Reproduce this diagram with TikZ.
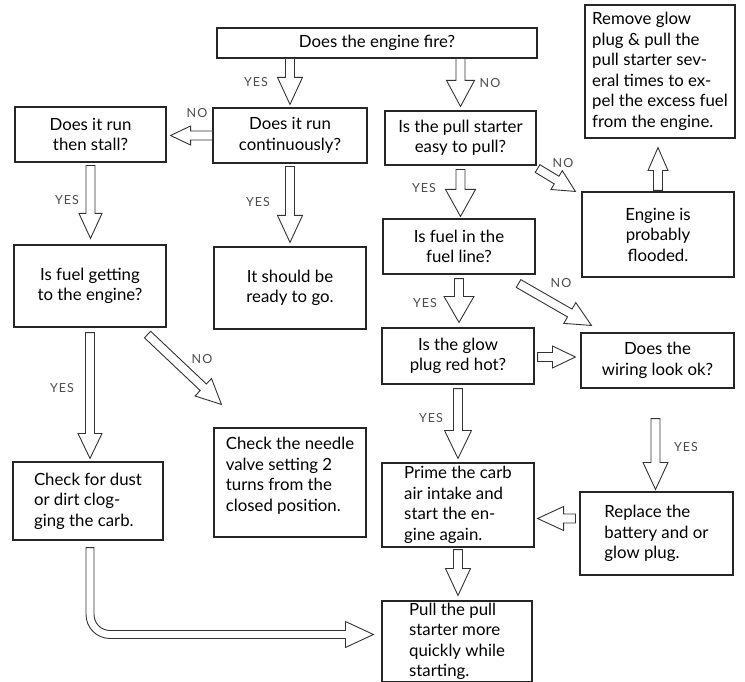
\documentclass[tikz,border=0pt]{standalone}
\usepackage{fontspec}
\setmainfont{Lato}
\usetikzlibrary{calc}
\newcommand{\blkarrow}[4]{%
  \coordinate (#1-hb) at ($(#2)!#3!(#1)$);
  \draw[blk] ($(#1)!4.5pt!90:(#2)$) -- ($(#1-hb)!4.5pt!90:(#2)$) -- ($(#1-hb)!#4!90:(#2)$) -- (#2) -- ($(#1-hb)!#4!-90:(#2)$) -- ($(#1-hb)!4.5pt!-90:(#2)$) -- ($(#1)!4.5pt!-90:(#2)$) -- cycle;}
\begin{document}
\begin{tikzpicture}[x=1pt,y=-1pt,
  box/.style={draw=black!85, line width=1.1pt, fill=white, inner sep=2pt, font=\fontsize{16.8}{20.5}\selectfont, text=black},
  blk/.style={draw=black!80, line width=0.9pt, fill=white, line join=miter},
  lbl/.style={font=\fontsize{12.5}{14}\selectfont\addfontfeature{LetterSpace=8}, text=black!70, inner sep=0pt}]
\fill[white] (0,0) rectangle (745,682);
\useasboundingbox (0,0) rectangle (745,682);

% boxes
\node[box, minimum width=320pt, minimum height=30pt] (fire) at (377,43) {Does the engine fire?};
\node[box, minimum width=154pt, minimum height=55pt, align=center] (cont) at (290,135.5) {Does it run\\continuously?};
\node[box, minimum width=151pt, minimum height=55pt, align=center] (stall) at (90.5,134.5) {Does it run\\then stall?};
\node[box, minimum width=151pt, minimum height=54pt, align=center] (pull) at (460.5,138) {Is the pull starter\\easy to pull?};
\node[box, minimum width=150pt, minimum height=133pt, align=left] (remove) at (660,71.5) {Remove glow\\plug \& pull the\\pull starter sev-\\eral times to ex-\\pel the excess fuel\\from the engine.};
\node[box, minimum width=152pt, minimum height=85pt, align=center] (flooded) at (658,234.5) {Engine is\\probably\\flooded.};
\node[box, minimum width=152pt, minimum height=55pt, align=center] (fuelline) at (459,246.5) {Is fuel in the\\fuel line?};
\node[box, minimum width=152pt, minimum height=82pt, align=center] (fuelget) at (90,286) {Is fuel getting\\to the engine?};
\node[box, minimum width=152pt, minimum height=82pt, align=center] (ready) at (290,288) {It should be\\ready to go.};
\node[box, minimum width=152pt, minimum height=56pt, align=center] (glow) at (458,356) {Is the glow\\plug red hot?};
\node[box, minimum width=153pt, minimum height=55pt, align=center] (wiring) at (657.5,360.5) {Does the\\wiring look ok?};
\node[box, minimum width=152pt, minimum height=109pt, align=left] (needle) at (290,482.5) {Check the needle\\valve setting 2\\turns from the\\closed position.\\[-4pt]\mbox{}};
\node[box, minimum width=150pt, minimum height=78pt, align=left] (dust) at (88,501) {Check for dust\\or dirt clog-\\ging the carb.};
\node[box, minimum width=152pt, minimum height=84pt, align=left] (prime) at (458,505) {Prime the carb\\air intake and\\start the en-\\gine again.};
\node[box, minimum width=153pt, minimum height=83pt, align=left] (replace) at (656.5,533.5) {Replace the\\battery and or\\glow plug.};
\node[box, minimum width=150pt, minimum height=79pt, align=left] (pullq) at (457,641.5) {Pull the pull\\starter more\\quickly while\\starting.};

% arrow end points
\coordinate (a1s) at (cont.north |- fire.south);
\coordinate (a1t) at ($(cont.north)+(0,-3)$);
\coordinate (a2s) at (pull.north |- fire.south);
\coordinate (a2t) at ($(pull.north)+(0,-4)$);
\coordinate (a3s) at (cont.west);
\coordinate (a3t) at ($(stall.east |- cont.west)+(4,0)$);
\coordinate (a4s) at ($(cont.south)+(0,3)$);
\coordinate (a4t) at ($(cont.south |- ready.north)+(0,-4)$);
\coordinate (a5s) at ($(stall.south)+(0,3)$);
\coordinate (a5t) at ($(stall.south |- fuelget.north)+(0,-6)$);
\coordinate (a6s) at ($(pull.south)+(0,4)$);
\coordinate (a6t) at ($(pull.south |- fuelline.north)+(0,-2)$);
\coordinate (a7s) at ($(pull.south east)+(1,3)$);
\coordinate (a7t) at ($(flooded.north west)+(-6,0)$);
\coordinate (a8s) at ($(flooded.north)+(0,-1)$);
\coordinate (a8t) at ($(flooded.north |- remove.south)+(0,9)$);
\coordinate (a9s) at ($(fuelline.south)+(0,4)$);
\coordinate (a9t) at ($(fuelline.south |- glow.north)+(0,-5)$);
\coordinate (a10s) at ($(fuelline.south east)+(-17,9)$);
\coordinate (a10t) at ($(wiring.north west)+(11,-7)$);
\coordinate (a11s) at ($(glow.east)+(3,1)$);
\coordinate (a11t) at ($(wiring.west |- glow.east)+(-5,1)$);
\coordinate (a12s) at ($(glow.south)+(0,4)$);
\coordinate (a12t) at ($(glow.south |- prime.north)+(0,-4)$);
\coordinate (a13s) at ($(fuelget.south)+(0,5)$);
\coordinate (a13t) at ($(fuelget.south |- dust.north)+(0,-3)$);
\coordinate (a14s) at ($(fuelget.south east)+(-19,7)$);
\coordinate (a14t) at ($(needle.north west)+(8,-23)$);
\coordinate (a15s) at ($(wiring.south)+(-2,30)$);
\coordinate (a15t) at ($(wiring.south |- replace.north)+(-2,-2)$);
\coordinate (a16s) at ($(replace.west)+(-4,-15)$);
\coordinate (a16t) at ($(prime.east |- replace.west)+(3,-15)$);
\coordinate (a17s) at ($(prime.south)+(0,2)$);
\coordinate (a17t) at ($(prime.south |- pullq.north)+(0,-5)$);
\coordinate (a18s) at ($(dust.south)+(2,7)$);
\coordinate (a18t) at ($(pullq.west)+(-8,-7)$);

% block arrows
\blkarrow{a1s}{a1t}{27pt}{12.5pt}
\blkarrow{a2s}{a2t}{26pt}{14pt}
\blkarrow{a3s}{a3t}{20pt}{9.5pt}
\blkarrow{a4s}{a4t}{27pt}{12.5pt}
\blkarrow{a5s}{a5t}{25pt}{11.5pt}
\blkarrow{a6s}{a6t}{27pt}{15pt}
\blkarrow{a7s}{a7t}{22pt}{11pt}
\blkarrow{a8s}{a8t}{23pt}{10pt}
\blkarrow{a9s}{a9t}{26pt}{15pt}
\blkarrow{a10s}{a10t}{25pt}{12pt}
\blkarrow{a11s}{a11t}{23pt}{11pt}
\blkarrow{a12s}{a12t}{28pt}{13.5pt}
\blkarrow{a13s}{a13t}{25pt}{12pt}
\blkarrow{a14s}{a14t}{25pt}{12pt}
\blkarrow{a15s}{a15t}{27pt}{12.5pt}
\blkarrow{a16s}{a16t}{26pt}{12pt}
\blkarrow{a17s}{a17t}{27pt}{12.5pt}

% curved arrow from dust to pullq
\draw[blk] let \p1=(a18s), \p2=(a18t) in
  (\x1-4pt,\y1) -- (\x1-4pt,\y2+20pt)
  .. controls (\x1-4pt,\y2+6.75pt) and (\x1+6.75pt,\y2-4pt) .. (\x1+20pt,\y2-4pt)
  -- (\x2-28pt,\y2-4pt) -- (\x2-28pt,\y2-13pt) -- (\x2,\y2) -- (\x2-28pt,\y2+13pt) -- (\x2-28pt,\y2+4pt)
  -- (\x1+20pt,\y2+4pt)
  .. controls (\x1+11.16pt,\y2+4pt) and (\x1+4pt,\y2+11.16pt) .. (\x1+4pt,\y2+20pt)
  -- (\x1+4pt,\y1) -- cycle;

% labels
\node[lbl] (l1) at (256,82) {YES};
\node[lbl] (l2) at (490,83) {NO};
\node[lbl] (l3) at (197,113) {NO};
\node[lbl] (l4) at (67,200) {YES};
\node[lbl] (l5) at (258,202) {YES};
\node[lbl] (l6) at (424,188) {YES};
\node[lbl] (l7) at (563,163) {NO};
\node[lbl] (l8) at (425,303) {YES};
\node[lbl] (l9) at (561,283) {NO};
\node[lbl] (l10) at (202,359) {NO};
\node[lbl] (l11) at (62,388) {YES};
\node[lbl] (l12) at (431,418) {YES};
\node[lbl] (l13) at (686,447) {YES};
\end{tikzpicture}
\end{document}
